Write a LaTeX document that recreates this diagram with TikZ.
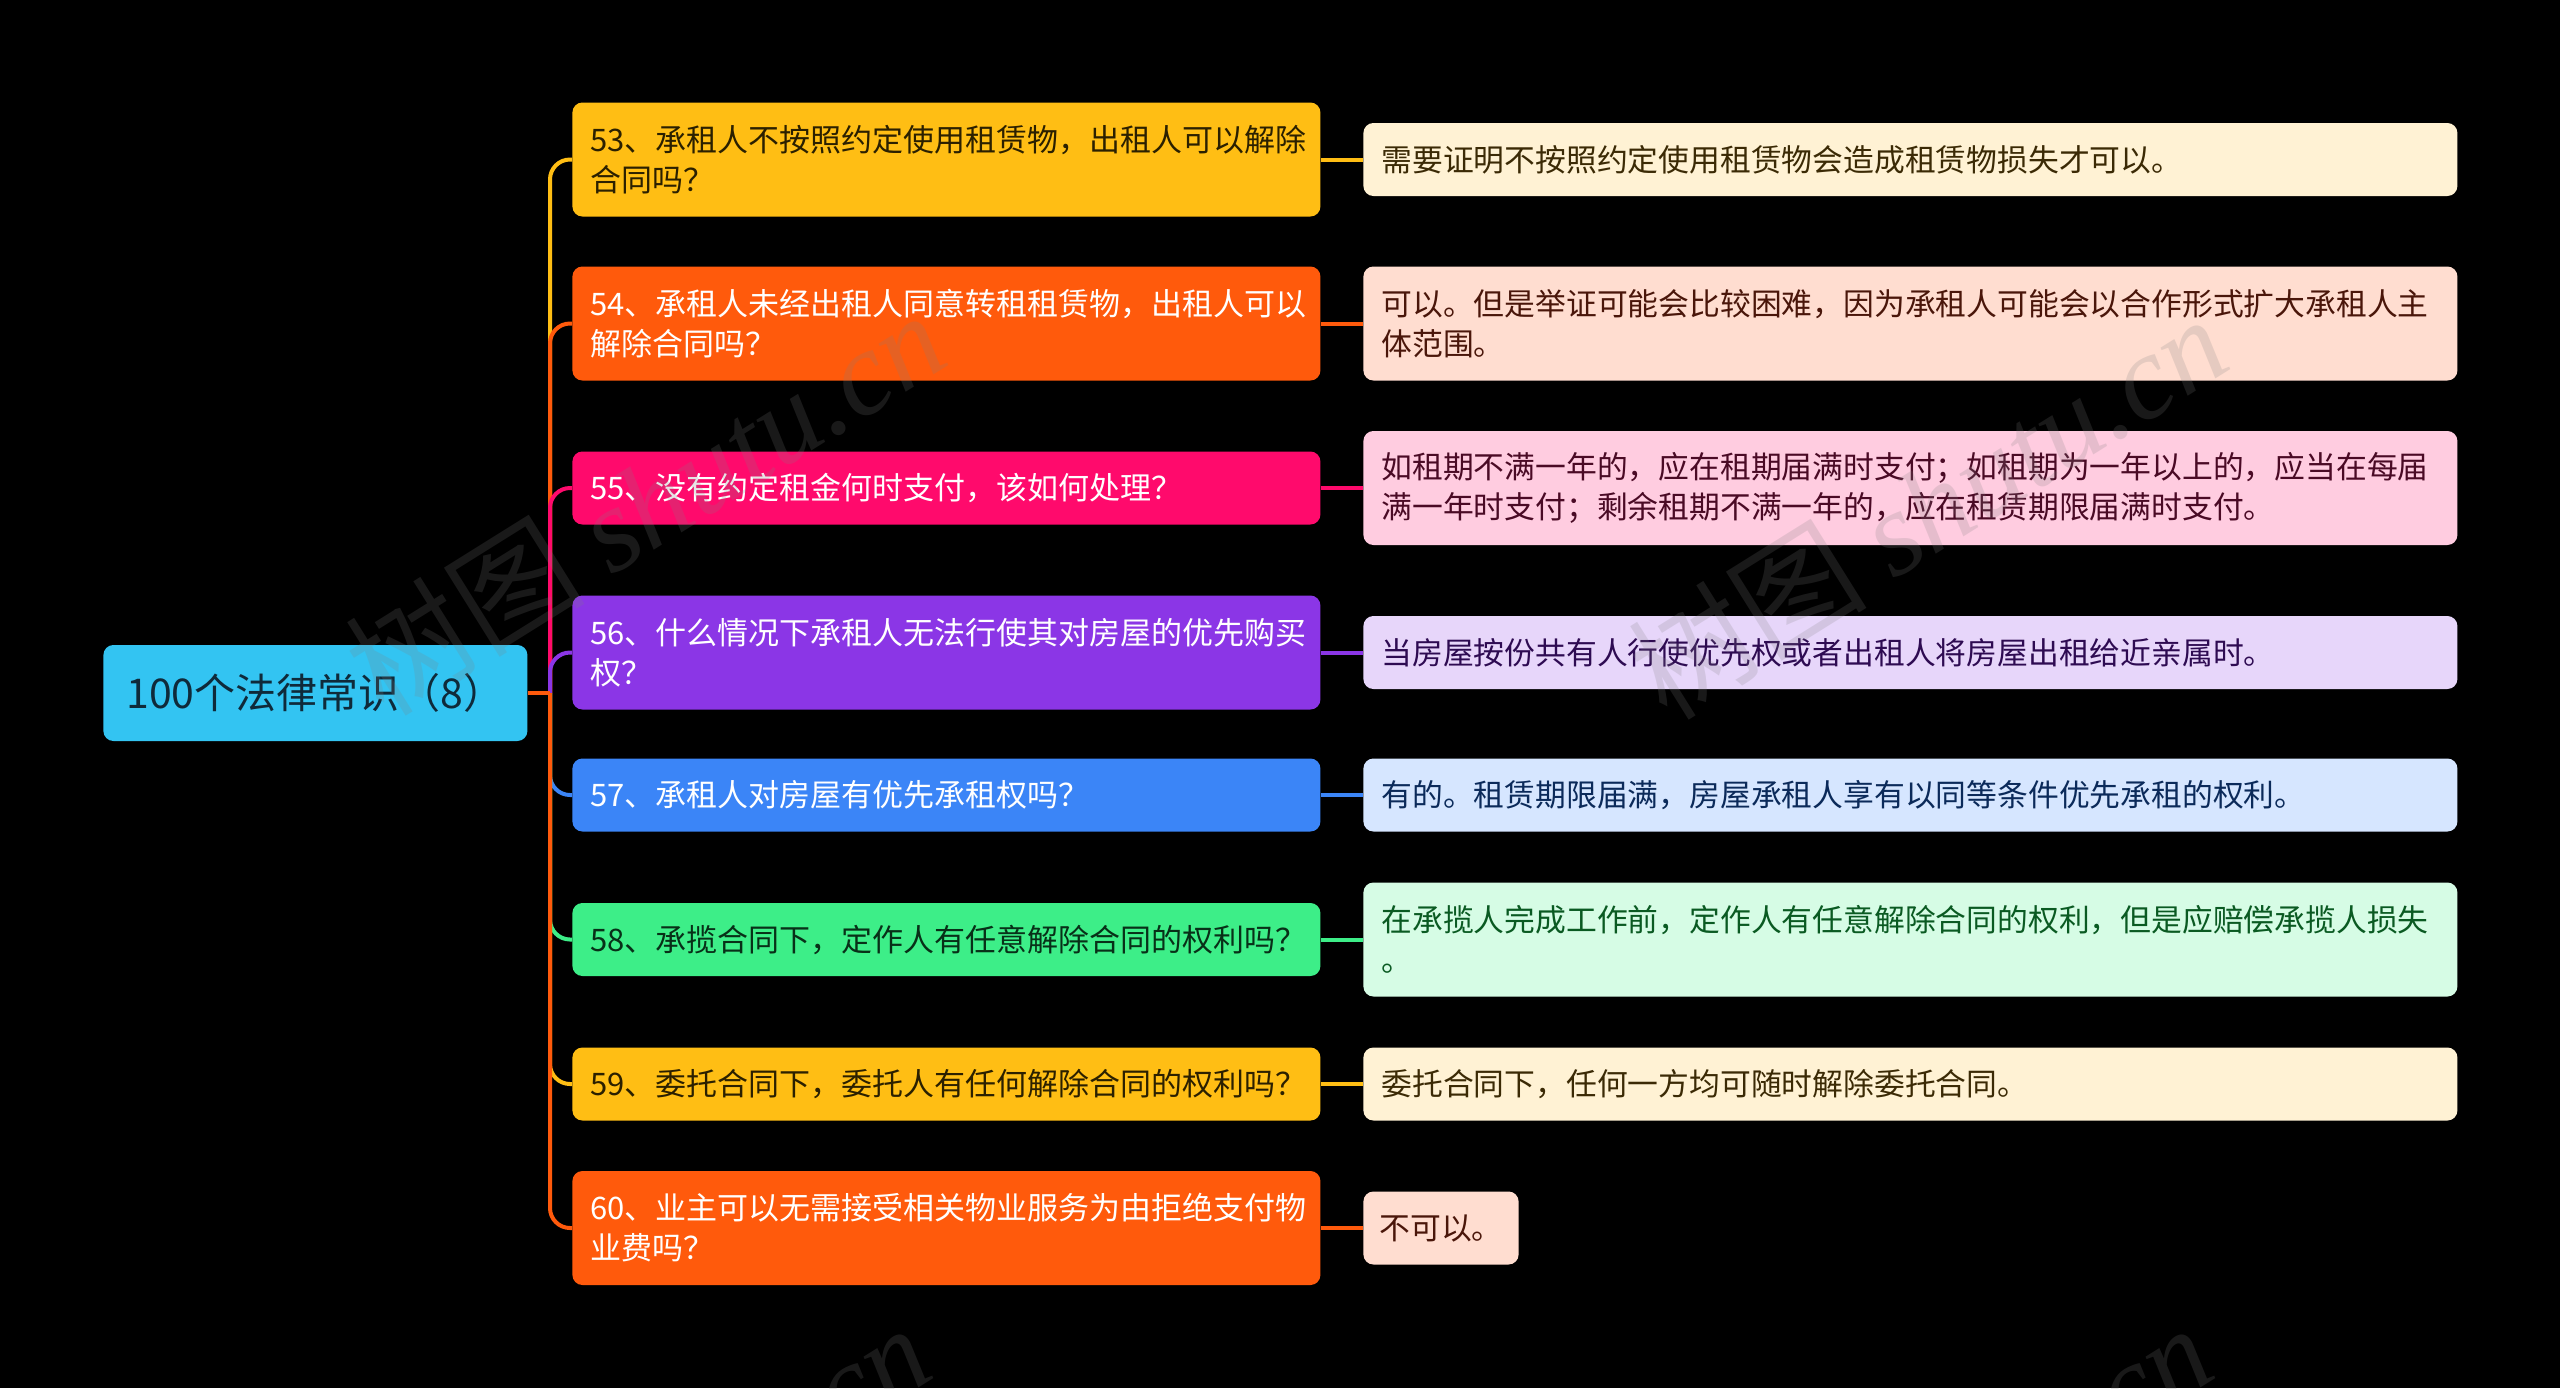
\documentclass[tikz,border=0pt]{standalone}
\usepackage{fontspec}
\setmainfont{Noto Sans CJK SC}
\newfontfamily\wmserif{Liberation Serif}
\definecolor{cYel}{HTML}{FFBE14}
\definecolor{cOra}{HTML}{FF5A0C}
\definecolor{cPink}{HTML}{FF0A6C}
\definecolor{cPur}{HTML}{8B36E6}
\definecolor{cBlue}{HTML}{3B85F7}
\definecolor{cGreen}{HTML}{3DEE88}
\definecolor{cRoot}{HTML}{33C4F2}
\definecolor{fYel}{HTML}{FFF2D4}
\definecolor{fOra}{HTML}{FFDDD0}
\definecolor{fPink}{HTML}{FFCCE0}
\definecolor{fPur}{HTML}{E7D6FA}
\definecolor{fBlue}{HTML}{D6E6FF}
\definecolor{fGreen}{HTML}{D6FCE5}
\definecolor{tYel}{HTML}{3B2A05}
\definecolor{tOra}{HTML}{4A160A}
\definecolor{tPink}{HTML}{4A0A25}
\definecolor{tPur}{HTML}{2E0B52}
\definecolor{tBlue}{HTML}{0B2A5A}
\definecolor{tGreen}{HTML}{0A5A22}
\definecolor{qDark}{HTML}{2B2000}
\definecolor{qDarkG}{HTML}{083018}
\definecolor{rootText}{HTML}{0F2A3A}
\tikzset{
  qbox/.style={rounded corners=5pt, minimum width=374pt, text width=356pt,
    inner xsep=9pt, inner ysep=0pt, align=left, anchor=west,
    font=\fontsize{15.5pt}{20pt}\selectfont},
  abox/.style={rounded corners=5pt, minimum width=547pt, text width=529pt,
    inner xsep=9pt, inner ysep=0pt, align=left, anchor=west,
    font=\fontsize{15.4pt}{20pt}\selectfont},
  onel/.style={minimum height=36.5pt},
  twol/.style={minimum height=57pt},
  rootbox/.style={rounded corners=5pt, minimum width=212pt, text width=189pt,
    inner xsep=11.5pt, minimum height=48pt, align=left, anchor=west,
    fill=cRoot, text=rootText, font=\fontsize{20.5pt}{24pt}\selectfont},
  br/.style={line width=2pt, rounded corners=10pt},
  lk/.style={line width=2pt},
  wm/.style={text=gray, opacity=0.2, font=\fontsize{60pt}{60pt}\selectfont}
}
\begin{document}
\begin{tikzpicture}[x=0.5pt,y=-0.5pt]
\fill[black] (0,0) rectangle (2560,1388);
\useasboundingbox (0,0) rectangle (2560,1388);

% root
\node[rootbox] (root) at (103,693) {100个法律常识（8）};
\coordinate (hub) at (550,693);

% questions
\node[qbox,twol,fill=cYel,text=qDark] (q53) at (572,159.5) {53、承租人不按照约定使用租赁物，出租人可以解除\\合同吗？};
\node[qbox,twol,fill=cOra,text=white] (q54) at (572,323.5) {54、承租人未经出租人同意转租租赁物，出租人可以\\解除合同吗？};
\node[qbox,onel,fill=cPink,text=white] (q55) at (572,488) {55、没有约定租金何时支付，该如何处理？};
\node[qbox,twol,fill=cPur,text=white] (q56) at (572,652.5) {56、什么情况下承租人无法行使其对房屋的优先购买\\权？};
\node[qbox,onel,fill=cBlue,text=white] (q57) at (572,795) {57、承租人对房屋有优先承租权吗？};
\node[qbox,onel,fill=cGreen,text=qDarkG] (q58) at (572,939.5) {58、承揽合同下，定作人有任意解除合同的权利吗？};
\node[qbox,onel,fill=cYel,text=qDark] (q59) at (572,1084) {59、委托合同下，委托人有任何解除合同的权利吗？};
\node[qbox,twol,fill=cOra,text=white] (q60) at (572,1228) {60、业主可以无需接受相关物业服务为由拒绝支付物\\业费吗？};

% answers
\node[abox,onel,fill=fYel,text=tYel] (a53) at (1363,159.5) {需要证明不按照约定使用租赁物会造成租赁物损失才可以。};
\node[abox,twol,fill=fOra,text=tOra] (a54) at (1363,323.5) {可以。但是举证可能会比较困难，因为承租人可能会以合作形式扩大承租人主\\体范围。};
\node[abox,twol,fill=fPink,text=tPink] (a55) at (1363,488) {如租期不满一年的，应在租期届满时支付；如租期为一年以上的，应当在每届\\满一年时支付；剩余租期不满一年的，应在租赁期限届满时支付。};
\node[abox,onel,fill=fPur,text=tPur] (a56) at (1363,652.5) {当房屋按份共有人行使优先权或者出租人将房屋出租给近亲属时。};
\node[abox,onel,fill=fBlue,text=tBlue] (a57) at (1363,795) {有的。租赁期限届满，房屋承租人享有以同等条件优先承租的权利。};
\node[abox,twol,fill=fGreen,text=tGreen] (a58) at (1363,939.5) {在承揽人完成工作前，定作人有任意解除合同的权利，但是应赔偿承揽人损失\\。};
\node[abox,onel,fill=fYel,text=tYel] (a59) at (1363,1084) {委托合同下，任何一方均可随时解除委托合同。};
\node[rounded corners=5pt, minimum width=77.5pt, minimum height=36.5pt, inner xsep=8pt, inner ysep=0pt, anchor=west, fill=fOra, text=tOra, font=\fontsize{15.4pt}{20pt}\selectfont] (a60) at (1363,1228) {不可以。};

% branches root -> questions
\draw[br,cYel] (hub) |- (q53.west);
\draw[br,cOra] (hub) |- (q54.west);
\draw[br,cPink] (hub) |- (q55.west);
\draw[br,cPur] (hub) |- (q56.west);
\draw[br,cBlue] (hub) |- (q57.west);
\draw[br,cGreen] (hub) |- (q58.west);
\draw[br,cYel] (hub) |- (q59.west);
\draw[br,cOra] (hub) |- (q60.west);
\draw[lk,cOra] (root.east) -- (hub);

% question -> answer
\draw[lk,cYel] (q53.east) -- (a53.west);
\draw[lk,cOra] (q54.east) -- (a54.west);
\draw[lk,cPink] (q55.east) -- (a55.west);
\draw[lk,cPur] (q56.east) -- (a56.west);
\draw[lk,cBlue] (q57.east) -- (a57.west);
\draw[lk,cGreen] (q58.east) -- (a58.west);
\draw[lk,cYel] (q59.east) -- (a59.west);
\draw[lk,cOra] (q60.east) -- (a60.west);

% watermarks
\begin{scope}
\clip (0,0) rectangle (2560,1388);
\node[wm,rotate=32] (wm1) at (645,502) {树图 {\wmserif\itshape shutu.cn}};
\node[wm,rotate=32] (wm2) at (1927,506) {树图 {\wmserif\itshape shutu.cn}};
\node[wm,rotate=32] (wm3) at (630,1515) {树图 {\wmserif\itshape shutu.cn}};
\node[wm,rotate=32] (wm4) at (1912,1515) {树图 {\wmserif\itshape shutu.cn}};
\end{scope}
\end{tikzpicture}
\end{document}
